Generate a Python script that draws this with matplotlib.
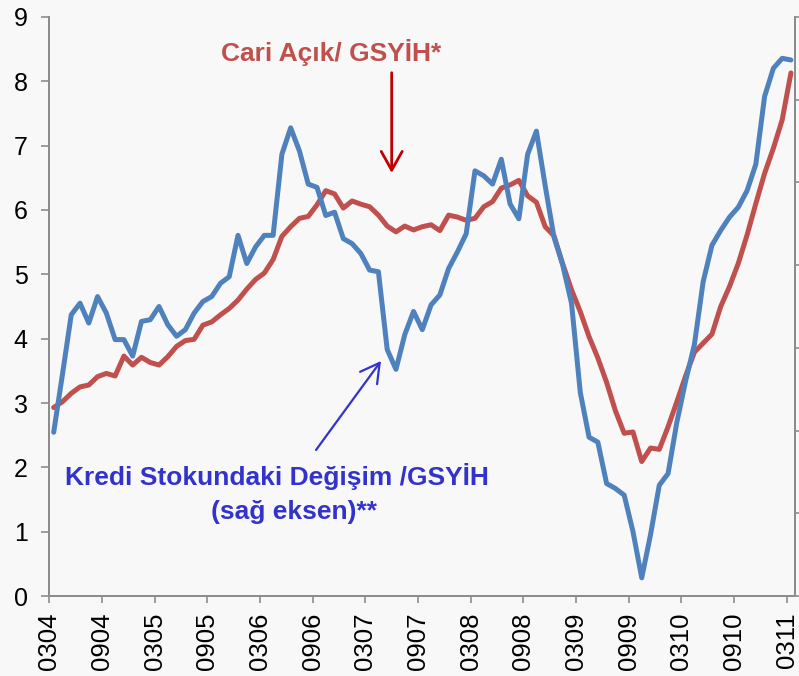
import matplotlib
matplotlib.use("Agg")
import matplotlib.pyplot as plt
import numpy as np

plt.rcParams['font.family'] = ['Liberation Sans', 'DejaVu Sans']

# monthly data, 03/2004 - 03/2011
tick_labels = ['0304', '0904', '0305', '0905', '0306', '0906', '0307', '0907',
               '0308', '0908', '0309', '0909', '0310', '0910', '0311']

# Cari Acik / GSYIH (left axis, %)
cari_acik = [2.93, 3.02, 3.15, 3.25, 3.28, 3.41, 3.46, 3.42, 3.73, 3.59,
             3.71, 3.63, 3.59, 3.72, 3.88, 3.97, 3.99, 4.21, 4.26, 4.37,
             4.47, 4.60, 4.77, 4.92, 5.02, 5.23, 5.59, 5.74, 5.87, 5.90,
             6.08, 6.30, 6.25, 6.03, 6.14, 6.09, 6.05, 5.92, 5.75, 5.66,
             5.75, 5.69, 5.74, 5.77, 5.68, 5.92, 5.89, 5.84, 5.87, 6.05,
             6.13, 6.34, 6.39, 6.46, 6.22, 6.12, 5.74, 5.60, 5.16, 4.76,
             4.42, 4.03, 3.70, 3.32, 2.88, 2.53, 2.55, 2.09, 2.30, 2.28,
             2.63, 3.02, 3.42, 3.79, 3.93, 4.07, 4.50, 4.81, 5.17, 5.61,
             6.10, 6.57, 6.96, 7.40, 8.13]

# Kredi stokundaki degisim / GSYIH (right axis, %)
kredi_degisim = [9.9, 13.4, 17.0, 17.7, 16.5, 18.1, 17.1, 15.5, 15.5, 14.5,
                 16.6, 16.7, 17.5, 16.4, 15.7, 16.1, 17.1, 17.8, 18.1, 18.9,
                 19.3, 21.8, 20.1, 21.1, 21.8, 21.8, 26.7, 28.3, 26.9, 24.9,
                 24.7, 23.0, 23.2, 21.6, 21.3, 20.7, 19.7, 19.6, 14.9, 13.7,
                 15.8, 17.2, 16.1, 17.6, 18.2, 19.8, 20.8, 21.9, 25.7, 25.4,
                 24.9, 26.4, 23.7, 22.8, 26.7, 28.1, 24.8, 21.7, 20.0, 17.7,
                 12.3, 9.6, 9.3, 6.8, 6.5, 6.1, 3.9, 1.1, 3.7, 6.7,
                 7.4, 10.5, 13.0, 15.2, 19.0, 21.2, 22.1, 22.9, 23.5, 24.5,
                 26.1, 30.2, 31.9, 32.5, 32.4]

bg = '#F8F8F8'
spine_col = '#8C8C8C'

x = np.arange(len(cari_acik)) + 0.5

fig = plt.figure(figsize=(7.99, 6.76), dpi=100, facecolor=bg)
ax = fig.add_axes([0.0617, 0.1183, 0.9337, 0.8566])
ax.set_facecolor(bg)

ax.plot(x, cari_acik, color='#C0504D', lw=3.6, solid_joinstyle='round', solid_capstyle='round')
ax.set_xlim(0, len(cari_acik))
ax.set_ylim(0, 9)
ax.set_yticks(np.arange(0, 10, 1))
ax.set_xticks(np.arange(0, len(tick_labels) * 6, 6))
ax.set_xticklabels(tick_labels, rotation=90)

ax2 = ax.twinx()
ax2.plot(x, kredi_degisim, color='#4F81BD', lw=3.6, solid_joinstyle='round', solid_capstyle='round')
ax2.set_ylim(0, 35)
ax2.set_yticks(np.arange(0, 40, 5))
ax2.tick_params(axis='y', labelright=False, direction='out', length=5, width=1.2, color=spine_col)

for a in (ax, ax2):
    a.spines['top'].set_visible(False)
    for s in ('left', 'right', 'bottom'):
        a.spines[s].set_color(spine_col)
        a.spines[s].set_linewidth(1.4)

ax.tick_params(axis='y', direction='out', length=5.5, width=1.2, color=spine_col, pad=10, labelsize=18)
ax.tick_params(axis='x', direction='out', length=5, width=1.2, color=spine_col, pad=7, labelsize=18.5)

# annotations
fig.text(331 / 799, 1 - 53 / 676, 'Cari Açık/ GSYİH*', color='#C0504D', fontsize=19,
         fontweight='bold', ha='center', va='center')
ax2.annotate('', xy=(391.7 / 799, 1 - 173 / 676), xytext=(391.7 / 799, 1 - 72.7 / 676),
             xycoords='figure fraction', textcoords='figure fraction',
             arrowprops=dict(arrowstyle='->,head_length=0.5,head_width=0.28',
                             color='#C00000', lw=2, mutation_scale=27, shrinkA=0, shrinkB=0))

fig.text(277 / 799, 1 - 477 / 676, 'Kredi Stokundaki Değişim /GSYİH', color='#3333CC',
         fontsize=19, fontweight='bold', ha='center', va='center')
fig.text(294 / 799, 1 - 512 / 676, '(sağ eksen)**', color='#3333CC',
         fontsize=19, fontweight='bold', ha='center', va='center')
ax2.annotate('', xy=(381 / 799, 1 - 361 / 676), xytext=(316 / 799, 1 - 450 / 676),
             xycoords='figure fraction', textcoords='figure fraction',
             arrowprops=dict(arrowstyle='->,head_length=0.5,head_width=0.28',
                             color='#3333CC', lw=1.6, mutation_scale=27, shrinkA=0, shrinkB=0))

fig.savefig('out.png', dpi=100, facecolor=fig.get_facecolor())
